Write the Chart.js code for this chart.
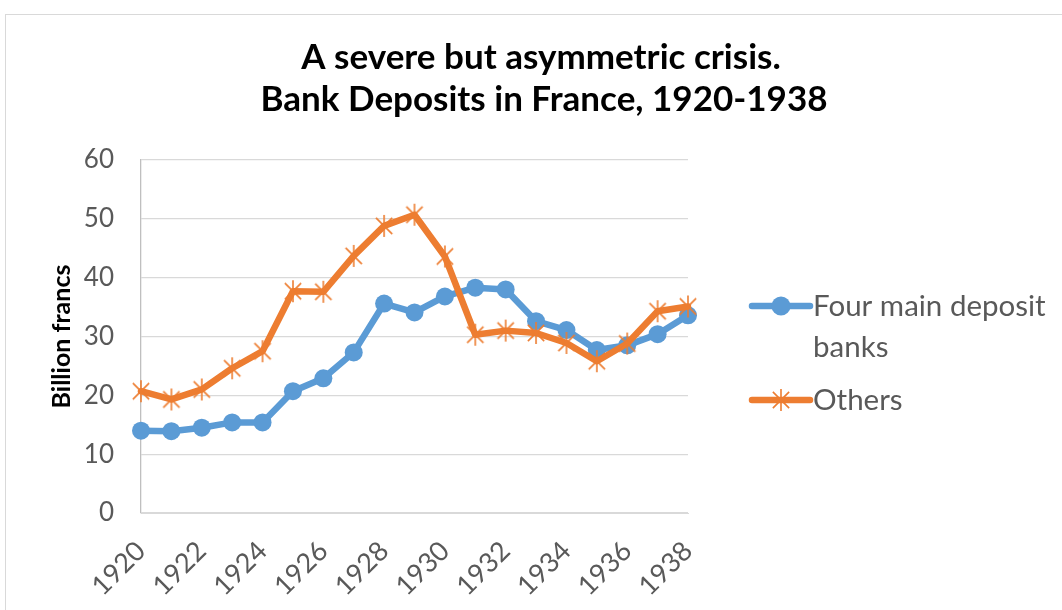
<!DOCTYPE html>
<html><head><meta charset="utf-8">
<script src="https://cdn.jsdelivr.net/npm/chart.js@4"></script>
<style>
html,body{margin:0;padding:0;background:#fff;}
#wrap{position:relative;width:1062px;height:610px;overflow:hidden;background:#fff;}
#frame{position:absolute;left:5px;top:14px;width:1100px;height:700px;border:1px solid #d9d9d9;box-sizing:border-box;}
#c{position:absolute;left:0;top:0;}
</style></head><body>
<div id="wrap"><div id="frame"></div><canvas id="c" width="1062" height="610"></canvas></div>
<script>
const years = [1920,1921,1922,1923,1924,1925,1926,1927,1928,1929,1930,1931,1932,1933,1934,1935,1936,1937,1938];
const fourMainBanks = [14.0,13.9,14.5,15.4,15.4,20.7,22.9,27.3,35.6,34.1,36.8,38.3,38.0,32.6,31.1,27.7,28.5,30.4,33.6];
const others = [20.7,19.3,21.0,24.6,27.5,37.7,37.6,43.7,48.8,50.7,43.6,30.3,31.0,30.6,28.9,25.8,28.8,34.3,35.1];
const titleLines = ['A severe but asymmetric crisis.', 'Bank Deposits in France, 1920-1938'];
const yTitle = 'Billion francs';
const seriesNames = ['Four main deposit banks', 'Others'];
const legendLines = [['Four main deposit', 'banks'], ['Others']];

const BLUE = '#5B9BD5', ORANGE = '#ED7D31', GREY = '#595959';
const FONT = 'Lato, "Open Sans", sans-serif';

function makeAsterisk(size, color) {
  const c = document.createElement('canvas');
  c.width = size; c.height = size;
  const g = c.getContext('2d');
  g.strokeStyle = color; g.lineWidth = 1.6; g.lineCap = 'butt';
  const m = size / 2, r = size / 2 - 1, d = r * 0.74;
  g.beginPath();
  g.moveTo(m, m - r); g.lineTo(m, m + r);
  g.moveTo(m - d, m - d); g.lineTo(m + d, m + d);
  g.moveTo(m + d, m - d); g.lineTo(m - d, m + d);
  g.stroke();
  return c;
}
const star = makeAsterisk(24, ORANGE);

const titlePlugin = {
  id: 'customTitle',
  afterDraw(chart) {
    const ctx = chart.ctx;
    ctx.save();
    ctx.fillStyle = '#000';
    ctx.font = 'bold 35px ' + FONT;
    ctx.textAlign = 'center'; ctx.textBaseline = 'alphabetic';
    ctx.fillText(titleLines[0], 541, 69);
    ctx.fillText(titleLines[1], 544, 111);
    ctx.restore();
  }
};

const legendPlugin = {
  id: 'customLegend',
  afterDraw(chart) {
    const ctx = chart.ctx;
    ctx.save();
    const x0 = 752, x1 = 810, tx = 813;
    const items = [
      {y: 306, color: BLUE, lines: legendLines[0], marker: 'circle'},
      {y: 400, color: ORANGE, lines: legendLines[1], marker: 'star'}
    ];
    items.forEach(it => {
      ctx.strokeStyle = it.color; ctx.lineWidth = 6.5; ctx.lineCap = 'round';
      ctx.beginPath(); ctx.moveTo(x0, it.y); ctx.lineTo(x1, it.y); ctx.stroke();
      if (it.marker === 'circle') {
        ctx.fillStyle = it.color;
        ctx.beginPath(); ctx.arc((x0 + x1) / 2, it.y, 9.5, 0, Math.PI * 2); ctx.fill();
      } else {
        ctx.drawImage(star, (x0 + x1) / 2 - 12, it.y - 12);
      }
      ctx.fillStyle = GREY;
      ctx.font = '29.5px ' + FONT;
      ctx.textBaseline = 'middle'; ctx.textAlign = 'left';
      it.lines.forEach((l, i) => ctx.fillText(l, tx, it.y + i * 41));
    });
    ctx.restore();
  }
};

new Chart(document.getElementById('c'), {
  type: 'line',
  data: {
    labels: years,
    datasets: [
      {label: seriesNames[0], data: fourMainBanks, borderColor: BLUE, backgroundColor: BLUE,
       borderWidth: 6.5, pointStyle: 'circle', pointRadius: 9, pointBorderWidth: 0,
       pointBackgroundColor: BLUE, borderCapStyle: 'round', borderJoinStyle: 'round', tension: 0, order: 1},
      {label: seriesNames[1], data: others, borderColor: ORANGE, backgroundColor: ORANGE,
       borderWidth: 6.5, pointStyle: star, pointRadius: 12,
       borderCapStyle: 'round', borderJoinStyle: 'round', tension: 0, order: 0}
    ]
  },
  options: {
    responsive: false,
    animation: false,
    layout: {padding: {left: 0, right: 374, top: 160, bottom: 0}},
    plugins: {
      legend: {display: false},
      tooltip: {enabled: false},
      title: {display: false}
    },
    scales: {
      x: {
        grid: {display: false, drawTicks: false},
        border: {color: '#d9d9d9', width: 1},
        ticks: {
          autoSkip: false, maxRotation: 45, minRotation: 45, padding: 22,
          color: GREY, font: {family: FONT, size: 27},
          callback: (v, i) => (i % 2 === 0 ? String(years[i]) : '')
        },
        afterFit(s) { s.height = 97; }
      },
      y: {
        min: 0, max: 60,
        grid: {color: '#d9d9d9', lineWidth: 1.3, drawTicks: false},
        border: {color: '#bfbfbf', width: 1.3},
        ticks: {stepSize: 10, padding: 27, color: GREY, font: {family: FONT, size: 26}},
        title: {display: true, text: yTitle, color: '#000',
          font: {family: FONT, size: 25, weight: 'bold'}, padding: {top: 47, bottom: 0}},
        afterFit(s) { s.width = 141; }
      }
    }
  },
  plugins: [titlePlugin, legendPlugin]
});
</script>
</body></html>
